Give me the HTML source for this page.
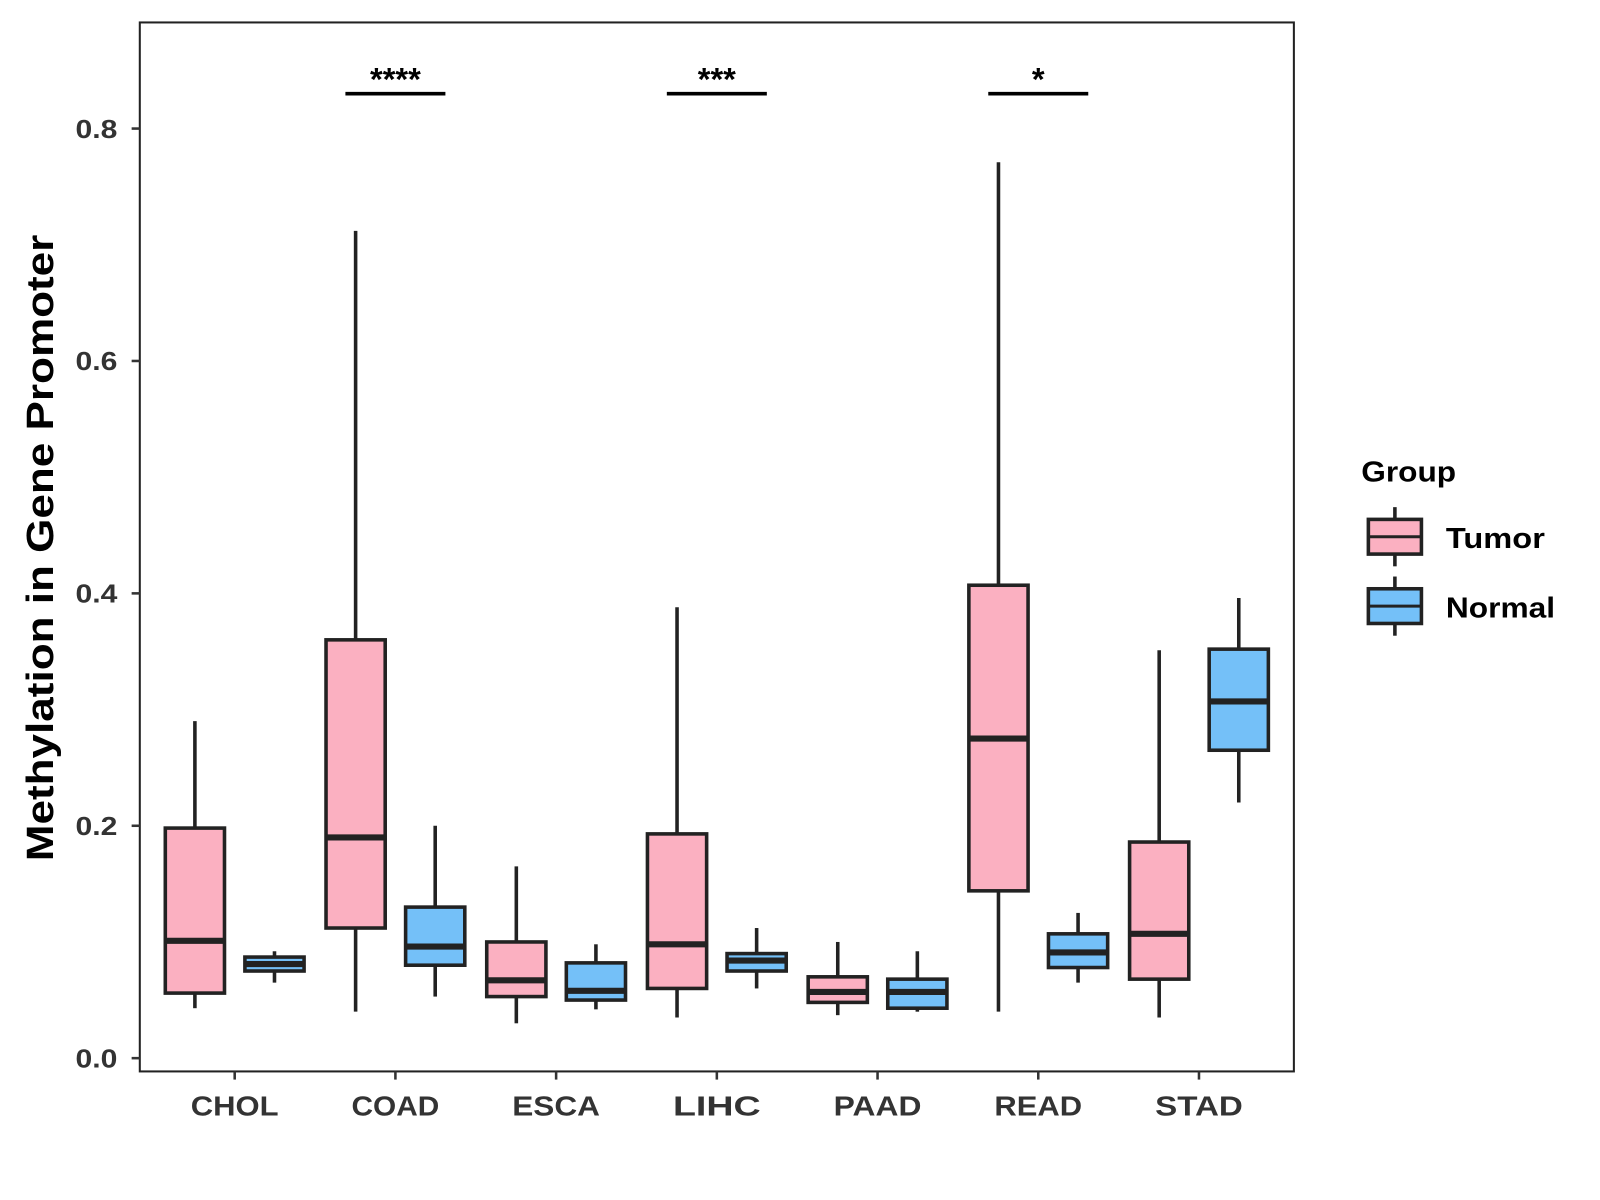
<!DOCTYPE html>
<html><head><meta charset="utf-8"><style>html,body{margin:0;padding:0;background:#fff}svg{display:block}</style></head>
<body>
<svg id="chart" width="1600" height="1200" viewBox="0 0 1568 1176" xmlns="http://www.w3.org/2000/svg" font-family="Liberation Sans, Arial, sans-serif">
<rect width="1568" height="1176" fill="#fff"/>
<rect x="137" y="22" width="1131" height="1028" fill="none" stroke="#222" stroke-width="2"/>
<g id="marks"></g>
<text transform="translate(52,537) rotate(-90)" text-anchor="middle" font-size="37" font-weight="bold" fill="#000" textLength="614" lengthAdjust="spacingAndGlyphs">Methylation in Gene Promoter</text>
<g>
<text x="1334" y="472" font-size="28" font-weight="bold" fill="#000" textLength="93" lengthAdjust="spacingAndGlyphs">Group</text>
<g>
<line x1="1367" y1="497" x2="1367" y2="555" stroke="#222" stroke-width="3.5"/>
<rect x="1341" y="509" width="52" height="34" fill="#FBB0C1" stroke="#222" stroke-width="3.5"/>
<line x1="1341" y1="526" x2="1393" y2="526" stroke="#222" stroke-width="3"/>
<text x="1417" y="537" font-size="28" font-weight="bold" fill="#000" textLength="97" lengthAdjust="spacingAndGlyphs">Tumor</text></g>
<g>
<line x1="1367" y1="565" x2="1367" y2="623" stroke="#222" stroke-width="3.5"/>
<rect x="1341" y="577" width="52" height="34" fill="#74C0F8" stroke="#222" stroke-width="3.5"/>
<line x1="1341" y1="594" x2="1393" y2="594" stroke="#222" stroke-width="3"/>
<text x="1417" y="605" font-size="28" font-weight="bold" fill="#000" textLength="107" lengthAdjust="spacingAndGlyphs">Normal</text></g>
</g>
</svg>
<script>
const categories = ["CHOL","COAD","ESCA","LIHC","PAAD","READ","STAD"];
const tumorLow   = [0.043,0.040,0.030,0.035,0.037,0.040,0.035];
const tumorQ1    = [0.056,0.112,0.053,0.060,0.048,0.144,0.068];
const tumorMed   = [0.101,0.190,0.067,0.098,0.057,0.275,0.107];
const tumorQ3    = [0.198,0.360,0.100,0.193,0.070,0.407,0.186];
const tumorHigh  = [0.290,0.712,0.165,0.388,0.100,0.771,0.351];
const normalLow  = [0.065,0.053,0.042,0.060,0.040,0.065,0.220];
const normalQ1   = [0.075,0.080,0.050,0.075,0.043,0.078,0.265];
const normalMed  = [0.081,0.096,0.058,0.084,0.057,0.091,0.307];
const normalQ3   = [0.087,0.130,0.082,0.090,0.068,0.107,0.352];
const normalHigh = [0.092,0.200,0.098,0.112,0.092,0.125,0.396];
const yTicks = [0, 0.2, 0.4, 0.6, 0.8];
const yTickLabels = ["0.0","0.2","0.4","0.6","0.8"];
const sigCategories = ["COAD","LIHC","READ"];
const sigLabels = ["****","***","*"];
const sigY = 0.83;

const NS="http://www.w3.org/2000/svg";
const g=document.getElementById('marks');
function y(v){return 1037-(v/0.8)*(1037-126);}
function x(i){return 230+i*157.5;}
function el(t,a){const e=document.createElementNS(NS,t);for(const k in a)e.setAttribute(k,a[k]);g.appendChild(e);return e;}

yTicks.forEach((v,i)=>{
  const t=el('line',{x1:129,x2:137,y1:y(v),y2:y(v),stroke:'#333','stroke-width':2.5});
  
  
  const l=el('text',{x:115,y:y(v)+9,'text-anchor':'end','font-size':25,'font-weight':'bold',fill:'#333',textLength:41,lengthAdjust:'spacingAndGlyphs'});
  l.textContent=yTickLabels[i];
  
  
});
categories.forEach((c,i)=>{
  const t=el('line',{x1:x(i),x2:x(i),y1:1050,y2:1058,stroke:'#333','stroke-width':2.5});
  
  
  const l=el('text',{x:x(i),y:1093,'text-anchor':'middle','font-size':27,'font-weight':'bold',fill:'#333',textLength:c.length*21+2,lengthAdjust:'spacingAndGlyphs'});
  l.textContent=c;
  
  
});
function box(cx,lo,q1,md,q3,hi,fill,name){
  const w=58;
  const a=el('line',{x1:cx,x2:cx,y1:y(hi),y2:y(q3),stroke:'#222','stroke-width':3.5});
  
  
  const b=el('line',{x1:cx,x2:cx,y1:y(q1),y2:y(lo),stroke:'#222','stroke-width':3.5});
  
  
  const r=el('rect',{x:cx-w/2,y:y(q3),width:w,height:y(q1)-y(q3),fill:fill,stroke:'#222','stroke-width':3.5});
  
  
  const m=el('line',{x1:cx-w/2,x2:cx+w/2,y1:y(md),y2:y(md),stroke:'#222','stroke-width':6});
  
  
}
categories.forEach((c,i)=>{
  box(x(i)-39,tumorLow[i],tumorQ1[i],tumorMed[i],tumorQ3[i],tumorHigh[i],'#FBB0C1',c.toLowerCase()+'-tumor');
  box(x(i)+39,normalLow[i],normalQ1[i],normalMed[i],normalQ3[i],normalHigh[i],'#74C0F8',c.toLowerCase()+'-normal');
});
sigCategories.forEach((c,k)=>{
  const i=categories.indexOf(c);
  const ln=el('line',{x1:x(i)-49,x2:x(i)+49,y1:y(sigY),y2:y(sigY),stroke:'#000','stroke-width':3.5});
  
  
  const t=el('text',{x:x(i),y:y(sigY)-3,'text-anchor':'middle','font-size':32,'font-weight':'bold',fill:'#000'});
  t.textContent=sigLabels[k];
  
  
});
</script>
</body></html>
